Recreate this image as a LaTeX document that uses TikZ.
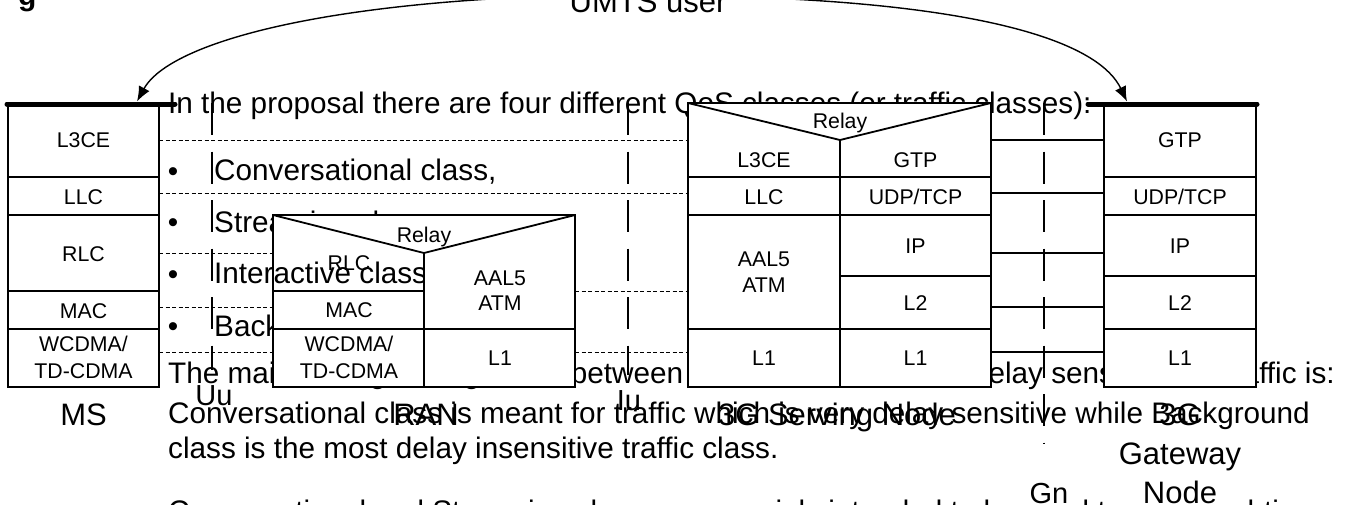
\documentclass[tikz,border=0pt]{standalone}
\usepackage{fontspec}
\setmainfont{Liberation Sans}
\usetikzlibrary{arrows.meta}
\newcommand\parafont{\fontsize{29.7}{35}\selectfont}
\newcommand\cellfont{\fontsize{21.3}{25}\selectfont}
\newcommand\labfont{\fontsize{31}{37}\selectfont}
\newcommand\ifcfont{\fontsize{29}{35}\selectfont}
\begin{document}
\begin{tikzpicture}[x=1pt,y=-1pt,line join=miter,
  para/.style={font=\parafont,inner sep=0pt,anchor=base west},
  bul/.style={font=\parafont,inner sep=0pt,anchor=base},
  lab/.style={font=\cellfont,inner sep=0pt,anchor=base},
  big/.style={font=\labfont,inner sep=0pt,anchor=base},
  ifclab/.style={font=\ifcfont,inner sep=0pt,anchor=base},
  cell/.style={draw,fill=white,line width=1.8pt},
  sep/.style={line width=1.8pt},
  peer/.style={line width=1pt,dash pattern=on 4pt off 2.5pt},
  peersolid/.style={line width=1.3pt},
  ifc/.style={line width=1.4pt,dash pattern=on 32pt off 16.5pt},
  bar/.style={line width=5pt,line cap=round},
  arc/.style={line width=1.4pt,-{Latex[length=15pt,width=12pt]}}]
\useasboundingbox (0,0) rectangle (1351,504);

% ---------- underlying document text ----------
\node[font=\fontsize{30}{35}\selectfont\bfseries,inner sep=0pt,anchor=base west] (fig) at (18,5) {g};
\node[para] (p1) at (168,113) {In the proposal there are four different QoS classes (or traffic classes):};
\node[bul] (d1) at (173,181) {\textbullet};
\node[bul] (d2) at (173,232) {\textbullet};
\node[bul] (d3) at (173,284) {\textbullet};
\node[bul] (d4) at (173,336) {\textbullet};
\node[para] (c1) at (214,180) {Conversational class,};
\node[para] (c2) at (214,232) {Streaming class,};
\node[para] (c3) at (214,283) {Interactive class,};
\node[para] (c4) at (214,336) {Background class.};
\node[para] (p2) at (168,383) {The main distinguishing factor between these classes is how delay sensitive the traffic is:};
\node[para] (p3) at (168,423) {Conversational class is meant for traffic which is very delay sensitive while Background};
\node[para] (p4) at (168,458) {class is the most delay insensitive traffic class.};
\node[para] (p5) at (168,521) {Conversational and Streaming classes are mainly intended to be used to carry real-time};

% ---------- peer-to-peer lines ----------
\draw[peer] (159,140) -- (688,140);
\draw[peer] (159,193) -- (688,193);
\draw[peer] (159,253) -- (273,253);
\draw[peer] (159,307) -- (273,307);
\draw[peer] (159,352) -- (273,352);
\draw[peer] (575,291) -- (688,291);
\draw[peer] (575,352) -- (688,352);
\draw[peersolid] (991,140) -- (1104,140);
\draw[peersolid] (991,193) -- (1104,193);
\draw[peersolid] (991,253) -- (1104,253);
\draw[peersolid] (991,307) -- (1104,307);
\draw[peersolid] (991,352) -- (1104,352);

% ---------- MS stack ----------
\draw[cell] (8,104) rectangle (159,177);
\draw[cell] (8,177) rectangle (159,215);
\draw[cell] (8,215) rectangle (159,291);
\draw[cell] (8,291) rectangle (159,329);
\draw[cell] (8,329) rectangle (159,387);
\node[lab] (ms1) at (83.5,147) {L3CE};
\node[lab] (ms2) at (83.5,204) {LLC};
\node[lab] (ms3) at (83.5,261) {RLC};
\node[lab] (ms4) at (83.5,318) {MAC};
\node[lab] (ms5) at (83.5,351) {WCDMA/};
\node[lab] (ms6) at (83.5,378) {TD-CDMA};

% ---------- RAN stack ----------
\draw[cell] (273,215) rectangle (575,387);
\draw[sep] (273,215) -- (424,253) -- (575,215);
\draw[sep] (424,253) -- (424,387);
\draw[sep] (273,291) -- (424,291);
\draw[sep] (273,329) -- (575,329);
\begin{scope}
  \clip (274,255) rectangle (423,290);
  \node[para] (c3b) at (214,283) {Interactive class,};
\end{scope}
\node[lab] (rn0) at (424,242) {Relay};
\node[lab] (rn1) at (349,270.5) {RLC};
\node[lab] (rn2) at (349,317.5) {MAC};
\node[lab] (rn3) at (349,351) {WCDMA/};
\node[lab] (rn4) at (349,378) {TD-CDMA};
\node[lab] (rn5) at (500,285) {AAL5};
\node[lab] (rn6) at (500,310) {ATM};
\node[lab] (rn7) at (500,365.5) {L1};

% ---------- 3G Serving Node stack ----------
\draw[cell] (688,103) rectangle (991,387);
\draw[sep] (688,103) -- (840,140) -- (991,103);
\draw[sep] (840,140) -- (840,387);
\draw[sep] (688,177) -- (991,177);
\draw[sep] (688,215) -- (991,215);
\draw[sep] (840,276) -- (991,276);
\draw[sep] (688,329) -- (991,329);
\node[lab] (sg0) at (840,128) {Relay};
\node[lab] (sg1) at (764,167) {L3CE};
\node[lab] (sg2) at (915.5,167) {GTP};
\node[lab] (sg3) at (764,204) {LLC};
\node[lab] (sg4) at (915.5,204) {UDP/TCP};
\node[lab] (sg5) at (764,266.5) {AAL5};
\node[lab] (sg6) at (764,292.5) {ATM};
\node[lab] (sg7) at (915.5,253) {IP};
\node[lab] (sg8) at (915.5,310) {L2};
\node[lab] (sg9) at (764,365.5) {L1};
\node[lab] (sg10) at (915.5,365.5) {L1};

% ---------- 3G Gateway Node stack ----------
\draw[cell] (1104,104) rectangle (1256,177);
\draw[cell] (1104,177) rectangle (1256,215);
\draw[cell] (1104,215) rectangle (1256,276);
\draw[cell] (1104,276) rectangle (1256,329);
\draw[cell] (1104,329) rectangle (1256,387);
\node[lab] (gg1) at (1180,147) {GTP};
\node[lab] (gg2) at (1180,204) {UDP/TCP};
\node[lab] (gg3) at (1180,253) {IP};
\node[lab] (gg4) at (1180,310) {L2};
\node[lab] (gg5) at (1180,365.5) {L1};

% ---------- interfaces ----------
\draw[ifc] (212,103) -- (212,370);
\draw[ifc] (628,103) -- (628,375);
\draw[ifc] (1044,103) -- (1044,443);
\node[ifclab] (uu) at (214,405) {Uu};
\node[ifclab] (iu) at (629,410) {Iu};
\node[ifclab] (gn) at (1049,503) {Gn};

% ---------- node names ----------
\node[big] (ms) at (83.5,425) {MS};
\node[big] (ran) at (426,425) {RAN};
\node[big] (sgsn) at (837,425) {3G Serving Node};
\node[big] (gg3g) at (1180,425) {3G};
\node[big] (ggw) at (1180,464) {Gateway};
\node[big] (ggn) at (1180,503) {Node};

% ---------- user plane bars and UMTS user arrows ----------
\coordinate (msl) at (7,104);
\coordinate (msr) at (175,104);
\coordinate (ggl) at (1088,104);
\coordinate (ggr) at (1257,104);
\draw[bar] (msl) -- (msr);
\draw[bar] (ggl) -- (ggr);
\node[big] (umts) at (648,12) {UMTS user};
\coordinate (al) at (490,-1);
\coordinate (ar) at (790,-1);
\coordinate (mstip) at (137,101.5);
\coordinate (ggtip) at (1127,101.5);
\draw[arc] (al) .. controls (280,12) and (165,50) .. (mstip);
\draw[arc] (ar) .. controls (1000,10) and (1100,45) .. (ggtip);
\end{tikzpicture}
\end{document}
